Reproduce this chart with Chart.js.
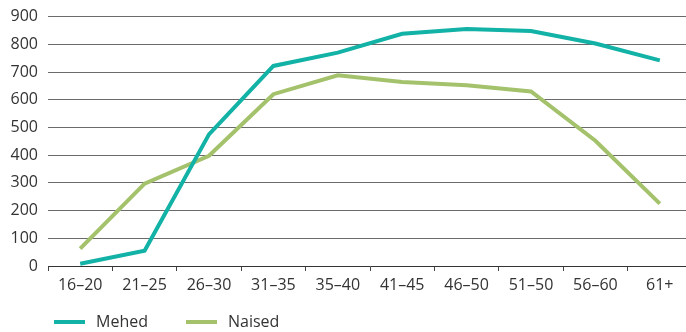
<!DOCTYPE html>
<html>
<head>
<meta charset="utf-8">
<script src="https://cdn.jsdelivr.net/npm/chart.js@4"></script>
<style>
    html, body { margin: 0; padding: 0; overflow: hidden; background: #fff; }
    #wrap { position: relative; width: 692px; height: 332px; overflow: hidden; }
    #box { position: absolute; left: 0; top: -3px; width: 692px; height: 335px; }
    #legend { position: absolute; left: 54px; top: 310px; font: 16px "Open Sans", sans-serif; color: #333; }
    #legend span.item { display: inline-block; margin-right: 38px; }
    #legend span.swatch { display: inline-block; width: 31px; height: 4px; vertical-align: middle; margin-right: 11px; position: relative; top: -1px; }
</style>
</head>
<body>
<div id="wrap">
    <div id="box"><canvas id="ageChart"></canvas></div>
    <div id="legend"></div>
</div>
<script>
const ageGroups = ['16–20', '21–25', '26–30', '31–35', '35–40', '41–45', '46–50', '51–50', '56–60', '61+'];
const menValues = [8, 55, 475, 722, 770, 838, 855, 848, 803, 742];
const womenValues = [63, 297, 398, 620, 688, 664, 652, 630, 452, 225];
const yTicks = [0, 100, 200, 300, 400, 500, 600, 700, 800, 900];

const seriesNames = ['Mehed', 'Naised'];
const seriesColors = ['#13b2a6', '#a4c26c'];

document.addEventListener('DOMContentLoaded', function() {
    const chart = initAgeChart();
    buildLegend(chart);
});

function initAgeChart() {
    const ctx = document.getElementById('ageChart').getContext('2d');
    Chart.defaults.font.family = '"Open Sans", sans-serif';
    Chart.defaults.font.size = 16;
    Chart.defaults.color = '#333';

    return new Chart(ctx, {
        type: 'line',
        data: {
            labels: ageGroups,
            datasets: [{
                label: seriesNames[0],
                data: menValues,
                borderColor: seriesColors[0],
                borderWidth: 4,
                pointRadius: 0,
                tension: 0
            }, {
                label: seriesNames[1],
                data: womenValues,
                borderColor: seriesColors[1],
                borderWidth: 4,
                pointRadius: 0,
                tension: 0
            }]
        },
        options: {
            responsive: true,
            maintainAspectRatio: false,
            animation: false,
            layout: { padding: { top: 6, right: 0, bottom: 0, left: 0 } },
            plugins: {
                legend: { display: false },
                tooltip: { enabled: false }
            },
            scales: {
                x: {
                    offset: true,
                    grid: {
                        offset: true,
                        drawOnChartArea: false,
                        drawTicks: true,
                        tickLength: 5,
                        color: '#444'
                    },
                    border: { display: true, color: '#333', width: 1 },
                    ticks: { padding: 5, maxRotation: 0, autoSkip: false },
                    afterFit: function(scale) { scale.height = 66; }
                },
                y: {
                    min: 0,
                    max: 900,
                    afterBuildTicks: function(scale) {
                        scale.ticks = yTicks.map(v => ({ value: v }));
                    },
                    grid: {
                        drawTicks: false,
                        color: function(c) { return c.tick.value === 0 ? 'rgba(0,0,0,0)' : '#6a6a6a'; },
                        lineWidth: 1
                    },
                    border: { display: false },
                    ticks: { padding: 10 },
                    afterFit: function(scale) { scale.width = 48; }
                }
            }
        }
    });
}

function buildLegend(chart) {
    const legend = document.getElementById('legend');
    chart.data.datasets.forEach(ds => {
        const item = document.createElement('span');
        item.className = 'item';
        item.innerHTML = `<span class="swatch" style="background:${ds.borderColor}"></span>${ds.label}`;
        legend.appendChild(item);
    });
}
</script>
</body>
</html>
